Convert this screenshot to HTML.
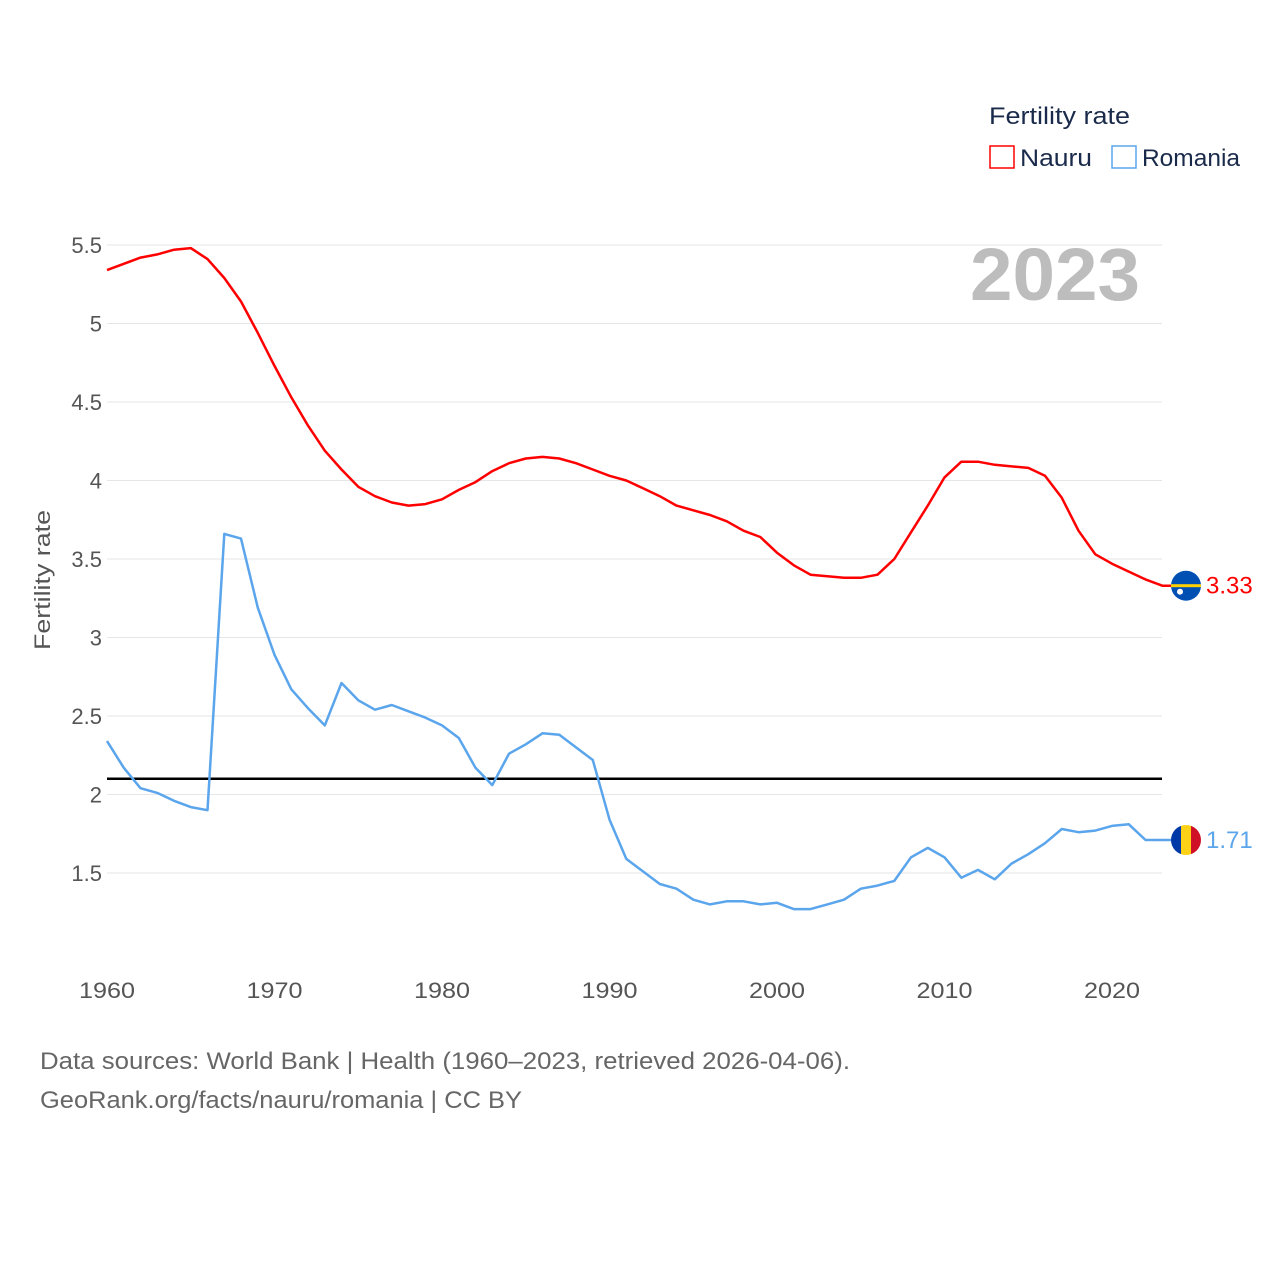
<!DOCTYPE html>
<html><head><meta charset="utf-8"><style>
body{margin:0;background:#fff;font-family:"Liberation Sans",sans-serif}
svg text{font-family:"Liberation Sans",sans-serif}
</style></head><body>
<svg width="1280" height="1280" viewBox="0 0 1280 1280">
<g id="grid"></g>
<g id="yt" font-size="22" fill="#555" text-anchor="end"></g>
<g id="xt" font-size="22" fill="#555" text-anchor="middle"></g>
<text transform="translate(50,580) rotate(-90)" font-size="22" fill="#555" text-anchor="middle" textLength="140" lengthAdjust="spacingAndGlyphs">Fertility rate</text>
<text x="1140" y="300" font-size="74" font-weight="bold" fill="#bdbdbd" text-anchor="end" textLength="170" lengthAdjust="spacingAndGlyphs">2023</text>
<g>
<text x="989" y="124" font-size="24" fill="#1a2a4a" textLength="141" lengthAdjust="spacingAndGlyphs">Fertility rate</text>
<rect x="990" y="146" width="24" height="22" fill="none" stroke="#f00" stroke-width="1.5"/>
<text x="1020" y="166" font-size="24" fill="#1a2a4a" textLength="72" lengthAdjust="spacingAndGlyphs">Nauru</text>
<rect x="1112" y="146" width="24" height="22" fill="none" stroke="#5aa5ec" stroke-width="1.5"/>
<text x="1142" y="166" font-size="24" fill="#1a2a4a" textLength="98" lengthAdjust="spacingAndGlyphs">Romania</text>
</g>
<line id="ref" x1="107" x2="1162" stroke="#000" stroke-width="2.5"/>
<path id="pn" fill="none" stroke="#f00" stroke-width="2.5" stroke-linejoin="round"/>
<path id="pr" fill="none" stroke="#5aa5ec" stroke-width="2.5" stroke-linejoin="round"/>
<g id="ends"></g>
<text x="40" y="1069" font-size="24" fill="#666" textLength="810" lengthAdjust="spacingAndGlyphs">Data sources: World Bank | Health (1960–2023, retrieved 2026-04-06).</text>
<text x="40" y="1108" font-size="24" fill="#666" textLength="482" lengthAdjust="spacingAndGlyphs">GeoRank.org/facts/nauru/romania | CC BY</text>
</svg>
<script>
const years=[];for(let y=1960;y<=2023;y++)years.push(y);
const nauru=[5.34,5.38,5.42,5.44,5.47,5.48,5.41,5.29,5.14,4.94,4.73,4.53,4.35,4.19,4.07,3.96,3.90,3.86,3.84,3.85,3.88,3.94,3.99,4.06,4.11,4.14,4.15,4.14,4.11,4.07,4.03,4.00,3.95,3.90,3.84,3.81,3.78,3.74,3.68,3.64,3.54,3.46,3.40,3.39,3.38,3.38,3.40,3.50,3.67,3.84,4.02,4.12,4.12,4.10,4.09,4.08,4.03,3.89,3.68,3.53,3.47,3.42,3.37,3.33];
const romania=[2.34,2.17,2.04,2.01,1.96,1.92,1.90,3.66,3.63,3.19,2.89,2.67,2.55,2.44,2.71,2.60,2.54,2.57,2.53,2.49,2.44,2.36,2.17,2.06,2.26,2.32,2.39,2.38,2.30,2.22,1.84,1.59,1.51,1.43,1.40,1.33,1.30,1.32,1.32,1.30,1.31,1.27,1.27,1.30,1.33,1.40,1.42,1.45,1.60,1.66,1.60,1.47,1.52,1.46,1.56,1.62,1.69,1.78,1.76,1.77,1.80,1.81,1.71,1.71];
const yTicks=[1.5,2,2.5,3,3.5,4,4.5,5,5.5];
const xTicks=[1960,1970,1980,1990,2000,2010,2020];
const refLevel=2.1;
const X=y=>107+(y-1960)*16.75, Y=v=>245+(5.5-v)*157;
const NS='http://www.w3.org/2000/svg';
const mk=(t,a,p)=>{const e=document.createElementNS(NS,t);for(const k in a)e.setAttribute(k,a[k]);p.appendChild(e);return e;};
const grid=document.getElementById('grid'),yt=document.getElementById('yt'),xt=document.getElementById('xt');
yTicks.forEach(v=>{
 const l=mk('line',{x1:107,x2:1162,y1:Y(v),y2:Y(v),stroke:'#e6e6e6','stroke-width':1},grid);
 
 
 const t=mk('text',{x:102,y:Y(v)+8},yt);t.textContent=String(v);
 
 
});
xTicks.forEach(v=>{
 const t=mk('text',{x:X(v),y:998,textLength:56,lengthAdjust:'spacingAndGlyphs'},xt);t.textContent=String(v);
 
 
});
const ref=document.getElementById('ref');ref.setAttribute('y1',Y(refLevel));ref.setAttribute('y2',Y(refLevel));
const path=a=>a.map((v,i)=>(i?'L':'M')+X(years[i]).toFixed(1)+','+Y(v).toFixed(1)).join('')+'L1172,'+Y(a[a.length-1]).toFixed(1);
document.getElementById('pn').setAttribute('d',path(nauru));
document.getElementById('pr').setAttribute('d',path(romania));
const ends=document.getElementById('ends');
function flag(v,col,name,kind){
 const cy=Y(v),cx=1186;
 const g=mk('g',{},ends);
 
 
 if(kind==='nauru'){
  mk('circle',{cx:cx,cy:cy,r:15,fill:'#0050b4'},g);
  mk('rect',{x:cx-15,y:cy-1.5,width:30,height:3,fill:'#ffd000'},g);
  mk('circle',{cx:cx-6,cy:cy+6,r:3,fill:'#fff'},g);
 }else{
  const cp=mk('clipPath',{id:'cr'},g);mk('circle',{cx:cx,cy:cy,r:15},cp);
  const gg=mk('g',{'clip-path':'url(#cr)'},g);
  mk('rect',{x:cx-15,y:cy-15,width:10,height:30,fill:'#0038a8'},gg);
  mk('rect',{x:cx-5,y:cy-15,width:10,height:30,fill:'#fcd116'},gg);
  mk('rect',{x:cx+5,y:cy-15,width:10,height:30,fill:'#ce1126'},gg);
 }
 const t=mk('text',{x:1206,y:cy+8,'font-size':24,fill:col},ends);t.textContent=v.toFixed(2);
 
 
}
flag(nauru[nauru.length-1],'#f00','nauru','nauru');
flag(romania[romania.length-1],'#5aa5ec','romania','romania');
</script>
</body></html>
